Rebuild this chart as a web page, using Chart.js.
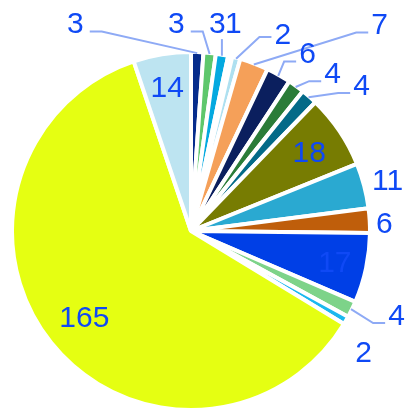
<!DOCTYPE html>
<html><head><meta charset="utf-8">
<script src="https://cdn.jsdelivr.net/npm/chart.js@4/dist/chart.umd.min.js"></script>
<style>html,body{margin:0;padding:0;background:#fff;overflow:hidden}canvas{display:block}</style>
</head><body>
<canvas id="c" width="406" height="409"></canvas>
<script>
// ---- data ----
const categories = ['S1','S2','S3','S4','S5','S6','S7','S8','S9','S10','S11','S12','S13','S14','S15','S16','S17'];
const values = [3, 3, 3, 1, 2, 7, 6, 4, 4, 18, 11, 6, 17, 4, 2, 165, 14];

// ---- styles ----
const sliceColors = ['#062c8c','#5ec76c','#04a9e0','#ffffff','#aee0f0','#f5a059','#0b1f5e','#2b7c38','#036a88',
  '#777c02','#2aa9d1','#bf5e0b','#003fe6','#7dd389','#1bb8ef','#e5ff12','#bde4f1'];
const BW = 4;
const LABEL_COLOR = '#0f49f5';
const LEADER_COLOR = '#8eaaf5';
const FONT_SIZE = 30;
// label placement: da = angle offset (deg, clockwise) from slice mid-angle, rf = radius factor,
// lead = leader line type (L: line to left of text, R: to right, V: vertical), ly = leader y offset
const labelLayout = [
  {da:-31.0, rf:1.347, lead:'R'},
  {da:-10.0, rf:1.181, lead:'R'},
  {da:-2.8,  rf:1.188, lead:'V'},
  {da:-1.2,  rf:1.202, lead:null},
  {da:10.2,  rf:1.233, lead:'L', ly:4},
  {da:21.6,  rf:1.584, lead:'L'},
  {da:3.8,   rf:1.204, lead:'L'},
  {da:5.7,   rf:1.202, lead:'L'},
  {da:7.9,   rf:1.272, lead:'L'},
  {da:0,     rf:0.806, lead:null},
  {da:0,     rf:1.148, lead:null},
  {da:0.8,   rf:1.094, lead:null},
  {da:0,     rf:0.831, lead:null},
  {da:-4.0,  rf:1.252, lead:'L'},
  {da:4.8,   rf:1.187, lead:null},
  {da:0,     rf:0.772, lead:null},
  {da:0,     rf:0.83,  lead:null}
];

const labelPlugin = {
  id: 'sliceLabels',
  afterDatasetsDraw(chart) {
    const ctx = chart.ctx;
    const meta = chart.getDatasetMeta(0);
    ctx.save();
    ctx.font = FONT_SIZE + 'px "Liberation Sans", Arial, sans-serif';
    ctx.textAlign = 'center';
    ctx.textBaseline = 'alphabetic';
    meta.data.forEach((arc, i) => {
      const p = arc.getProps(['x','y','startAngle','endAngle','outerRadius'], true);
      const Rv = p.outerRadius - BW / 2;
      const mid = (p.startAngle + p.endAngle) / 2;
      const L = labelLayout[i];
      const a = mid + L.da * Math.PI / 180;
      const cx = p.x + Math.cos(a) * Rv * L.rf;
      const cy = p.y + Math.sin(a) * Rv * L.rf;
      const txt = String(values[i]);
      const w = ctx.measureText(txt).width;
      const h = FONT_SIZE * 0.716;
      if (L.lead) {
        const sx = p.x + Math.cos(mid) * (Rv + 1);
        const sy = p.y + Math.sin(mid) * (Rv + 1);
        ctx.beginPath();
        ctx.strokeStyle = LEADER_COLOR;
        ctx.lineWidth = 2;
        ctx.moveTo(sx, sy);
        const ly = (L.ly !== undefined) ? L.ly : 9;
        if (L.lead === 'V') {
          ctx.lineTo(sx, cy + h / 2 + 6);
        } else if (L.lead === 'R') {
          const ex = cx + w / 2 + 6, ey = cy + ly;
          ctx.lineTo(ex + 12, ey);
          ctx.lineTo(ex, ey);
        } else {
          const ex = cx - w / 2 - 3, ey = cy + ly;
          ctx.lineTo(ex - 12, ey);
          ctx.lineTo(ex, ey);
        }
        ctx.stroke();
      }
      ctx.fillStyle = LABEL_COLOR;
      ctx.fillText(txt, cx, cy + h / 2);
    });
    ctx.restore();
  }
};

new Chart(document.getElementById('c'), {
  type: 'pie',
  data: {
    labels: categories,
    datasets: [{
      data: values,
      backgroundColor: sliceColors,
      borderColor: '#ffffff',
      borderWidth: BW,
      hoverBorderWidth: BW,
      clip: false
    }]
  },
  options: {
    responsive: false,
    animation: false,
    radius: 179,
    layout: { padding: { left: 0, right: 24, top: 53, bottom: 0 } },
    plugins: { legend: { display: false }, tooltip: { enabled: false } },
    events: []
  },
  plugins: [labelPlugin]
});
</script>
</body></html>
